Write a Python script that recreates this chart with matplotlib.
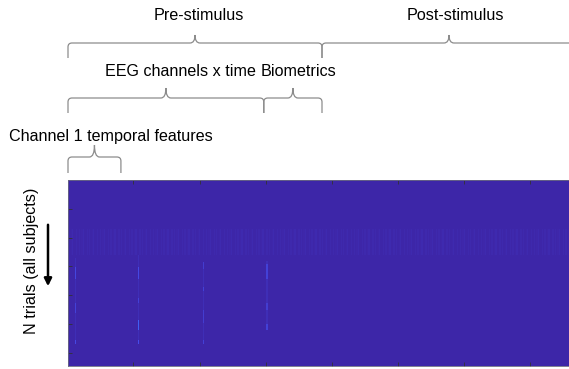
import numpy as np
import matplotlib
matplotlib.use("Agg")
import matplotlib.pyplot as plt
from matplotlib.colors import LinearSegmentedColormap
from matplotlib.path import Path
from matplotlib.patches import PathPatch, FancyArrowPatch

plt.rcParams["font.family"] = ["Liberation Sans", "DejaVu Sans"]

# ---- feature layout (columns) and trials (rows) ----
n_trials = 6450
trial_bin = 50
n_channel1 = 40
n_eeg = 148
n_bio = 44
n_pre = n_eeg + n_bio
n_post = 192
n_cols = n_pre + n_post

# brighter feature columns and the trial ranges where they light up
streak_cols = [6, 54, 103, 151]
streak_span = [(2700, 5730), (2600, 5730), (2900, 5730), (2800, 5200)]
streak_base = 0.025
streak_spots = [
    [(3020, 3470, 0.09), (4270, 4620, 0.08), (5550, 5730, 0.10)],
    [(3020, 3470, 0.10), (4130, 4270, 0.08), (4860, 5200, 0.16), (5550, 5730, 0.11)],
    [(2880, 3120, 0.07), (3710, 3890, 0.08), (4510, 4960, 0.07), (5550, 5730, 0.08)],
    [(2900, 3470, 0.08), (4270, 4510, 0.07), (5030, 5200, 0.08)],
]
# faint textured block of trials
band_rows = (1700, 2600)
band_profile = [0.009, 0.0, 0.006, 0.014, 0.0, 0.003, 0.011, 0.0]

# ---- feature matrix ----
n_bins = n_trials // trial_bin
img = np.zeros((n_bins, n_cols))
b0, b1 = band_rows[0] // trial_bin, band_rows[1] // trial_bin
prof = np.resize(np.array(band_profile), n_cols)
img[b0:b1, :] = prof[None, :]
for col, (s0, s1), spots in zip(streak_cols, streak_span, streak_spots):
    img[s0 // trial_bin:s1 // trial_bin, col - 1] = streak_base
    for a, b, v in spots:
        img[a // trial_bin:b // trial_bin, col - 1] = v

# parula-like colormap
parula = LinearSegmentedColormap.from_list("parula", [
    (0.000, (0.2422, 0.1504, 0.6603)),
    (0.125, (0.2810, 0.3228, 0.9579)),
    (0.250, (0.1786, 0.5289, 0.9682)),
    (0.375, (0.0689, 0.6948, 0.8394)),
    (0.500, (0.2161, 0.7843, 0.5923)),
    (0.625, (0.6720, 0.7793, 0.2227)),
    (0.750, (0.9970, 0.7659, 0.2199)),
    (0.875, (0.9598, 0.8870, 0.1566)),
    (1.000, (0.9769, 0.9839, 0.0805)),
])

W, H = 569, 369
fig = plt.figure(figsize=(W / 100, H / 100), dpi=100)
ax = fig.add_axes([68 / W, 1 - 366 / H, 508 / W, 186 / H])
ax.imshow(img, aspect="auto", cmap=parula, vmin=0, vmax=1,
          extent=(0.5, n_cols + 0.5, n_trials + 0.5, 0.5),
          interpolation="nearest")
ax.set_xlim(0.5, n_cols + 0.5)
ax.set_ylim(n_trials + 0.5, 0.5)
ax.set_xticks(np.arange(50, n_cols, 50))
ax.set_yticks(np.arange(1000, n_trials, 1000))
ax.tick_params(direction="in", top=True, bottom=True, left=True, right=True,
               labelbottom=False, labelleft=False, length=3, width=0.6,
               color="#333333")
for sp in ax.spines.values():
    sp.set_color("#6a6a80")
    sp.set_linewidth(0.6)


def col_px(c):
    return ax.transData.transform((c, 1))[0]


def brace(c0, c1, y_line, depth=15, tip=8, r=4, tr=5):
    x0, x1 = col_px(c0), col_px(c1)
    xm = (x0 + x1) / 2
    pts = [(x0, y_line + depth), (x0, y_line + r), (x0, y_line), (x0 + r, y_line),
           (xm - tr, y_line), (xm, y_line), (xm, y_line - tip),
           (xm, y_line), (xm + tr, y_line),
           (x1 - r, y_line), (x1, y_line), (x1, y_line + r), (x1, y_line + depth)]
    codes = [Path.MOVETO, Path.LINETO, Path.CURVE3, Path.CURVE3,
             Path.LINETO, Path.CURVE3, Path.CURVE3,
             Path.CURVE3, Path.CURVE3,
             Path.LINETO, Path.CURVE3, Path.CURVE3, Path.LINETO]
    verts = [(x / W, 1 - y / H) for x, y in pts]
    fig.add_artist(PathPatch(Path(verts, codes), transform=fig.transFigure,
                             fill=False, edgecolor="#8c8c8c", lw=0.9,
                             clip_on=False))


brace(0.5, n_pre + 0.5, 43, depth=15, tip=8)
brace(n_pre + 0.5, n_pre + n_post + 0.5, 43, depth=15, tip=8)
brace(0.5, n_eeg + 0.5, 98, depth=15, tip=10)
brace(n_eeg + 0.5, n_pre + 0.5, 98, depth=15, tip=10)
brace(0.5, n_channel1 + 0.5, 157, depth=16, tip=12)

fs = 11.6


def label(x, y, s):
    fig.text(x / W, 1 - y / H, s, ha="center", va="baseline", fontsize=fs,
             color="black")


label(199, 20, "Pre-stimulus")
label(455, 20, "Post-stimulus")
label(180, 76, "EEG channels x time")
label(299, 76, "Biometrics")
label(111, 141, "Channel 1 temporal features")

fig.text(32 / W, 1 - 261 / H, "N trials (all subjects)", rotation=90,
         ha="center", va="center", fontsize=fs, color="black")
fig.add_artist(FancyArrowPatch((48 / W, 1 - 222 / H), (48 / W, 1 - 289 / H),
                               transform=fig.transFigure, arrowstyle="-|>",
                               mutation_scale=11, lw=1.8, color="black"))

fig.savefig("out.png", dpi=100)
